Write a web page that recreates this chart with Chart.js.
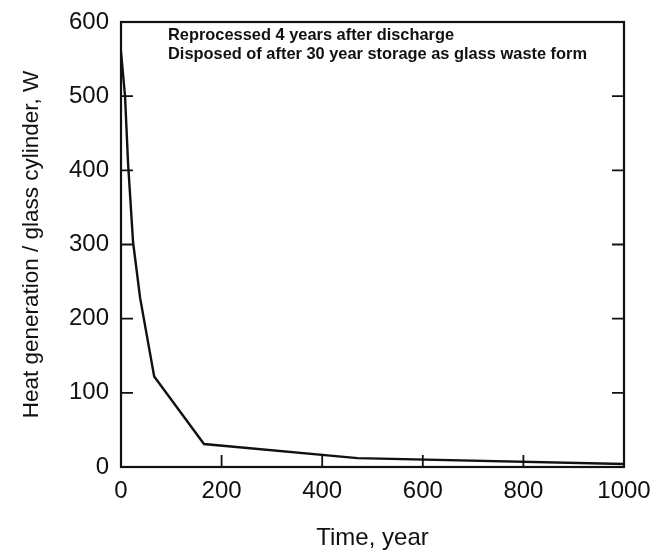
<!DOCTYPE html>
<html lang="en">
<head>
    <meta charset="UTF-8">
    <title>Heat generation per glass cylinder</title>
    <script src="https://cdn.jsdelivr.net/npm/chart.js"></script>
    <style>
        html, body { margin: 0; padding: 0; background: #fff; }
        #wrap { width: 656px; height: 553px; }
    </style>
</head>
<body>
    <div id="wrap"><canvas id="myChart" width="656" height="553"></canvas></div>

    <script>
        // values
        const years = [0, 8, 14, 24, 38, 66, 165, 470, 1000];
        const heatW = [560, 500, 410, 303, 228, 122, 31, 12, 4];
        const xTicks = [0, 200, 400, 600, 800, 1000];
        const yTicks = [0, 100, 200, 300, 400, 500, 600];
        const noteLines = [
            "Reprocessed 4 years after discharge",
            "Disposed of after 30 year storage as glass waste form"
        ];

        const FONT = "'Liberation Sans', Arial, Helvetica, sans-serif";
        const INK = '#111';

        // frame, inward ticks and the note in the top left
        const framePlugin = {
            id: 'frame',
            afterDatasetsDraw(chart) {
                const ctx = chart.ctx;
                const a = chart.chartArea;
                const xs = chart.scales.x, ys = chart.scales.y;
                const tick = 12;
                ctx.save();
                ctx.strokeStyle = INK;
                ctx.lineWidth = 2.2;
                ctx.strokeRect(a.left, a.top, a.right - a.left, a.bottom - a.top);

                ctx.lineWidth = 1.8;
                ctx.beginPath();
                xTicks.slice(1, -1).forEach(v => {
                    const px = xs.getPixelForValue(v);
                    ctx.moveTo(px, a.bottom);
                    ctx.lineTo(px, a.bottom - tick);
                });
                yTicks.slice(1, -1).forEach(v => {
                    const py = ys.getPixelForValue(v);
                    ctx.moveTo(a.left, py);
                    ctx.lineTo(a.left + tick, py);
                    ctx.moveTo(a.right, py);
                    ctx.lineTo(a.right - tick, py);
                });
                ctx.stroke();

                ctx.fillStyle = INK;
                ctx.font = 'bold 16.4px ' + FONT;
                ctx.textBaseline = 'middle';
                noteLines.forEach((t, i) => {
                    ctx.fillText(t, a.left + 47, a.top + 13 + i * 19);
                });
                ctx.restore();
            }
        };

        const ctx = document.getElementById('myChart').getContext('2d');
        const chart = new Chart(ctx, {
            type: 'line',
            data: {
                datasets: [{
                    data: years.map((x, i) => ({ x: x, y: heatW[i] })),
                    borderColor: INK,
                    borderWidth: 2.4,
                    pointRadius: 0,
                    tension: 0,
                    fill: false
                }]
            },
            options: {
                responsive: false,
                animation: false,
                layout: { padding: { top: 22, right: 32, left: 0, bottom: 0 } },
                plugins: {
                    legend: { display: false },
                    tooltip: { enabled: false }
                },
                scales: {
                    x: {
                        type: 'linear',
                        min: 0,
                        max: 1000,
                        afterBuildTicks: s => { s.ticks = xTicks.map(v => ({ value: v })); },
                        afterFit: s => {
                            s.height = 86;
                            s.paddingLeft = 0;
                            s.paddingRight = 0;
                        },
                        grid: { display: false, drawTicks: false },
                        border: { display: false },
                        ticks: {
                            color: INK,
                            padding: 10,
                            maxRotation: 0,
                            callback: v => String(v),
                            font: { family: FONT, size: 24 }
                        },
                        title: {
                            display: true,
                            text: 'Time, year',
                            color: INK,
                            padding: { top: 14, bottom: 0 },
                            font: { family: FONT, size: 24 }
                        }
                    },
                    y: {
                        min: 0,
                        max: 600,
                        afterBuildTicks: s => { s.ticks = yTicks.map(v => ({ value: v })); },
                        afterFit: s => {
                            s.width = 121;
                            s.paddingTop = 0;
                            s.paddingBottom = 0;
                        },
                        grid: { display: false, drawTicks: false },
                        border: { display: false },
                        ticks: {
                            color: INK,
                            padding: 12,
                            callback: v => String(v),
                            font: { family: FONT, size: 24 }
                        },
                        title: {
                            display: true,
                            text: 'Heat generation / glass cylinder, W',
                            color: INK,
                            padding: { top: 18, bottom: 0 },
                            font: { family: FONT, size: 22.5 }
                        }
                    }
                }
            },
            plugins: [framePlugin]
        });
    </script>
</body>
</html>
